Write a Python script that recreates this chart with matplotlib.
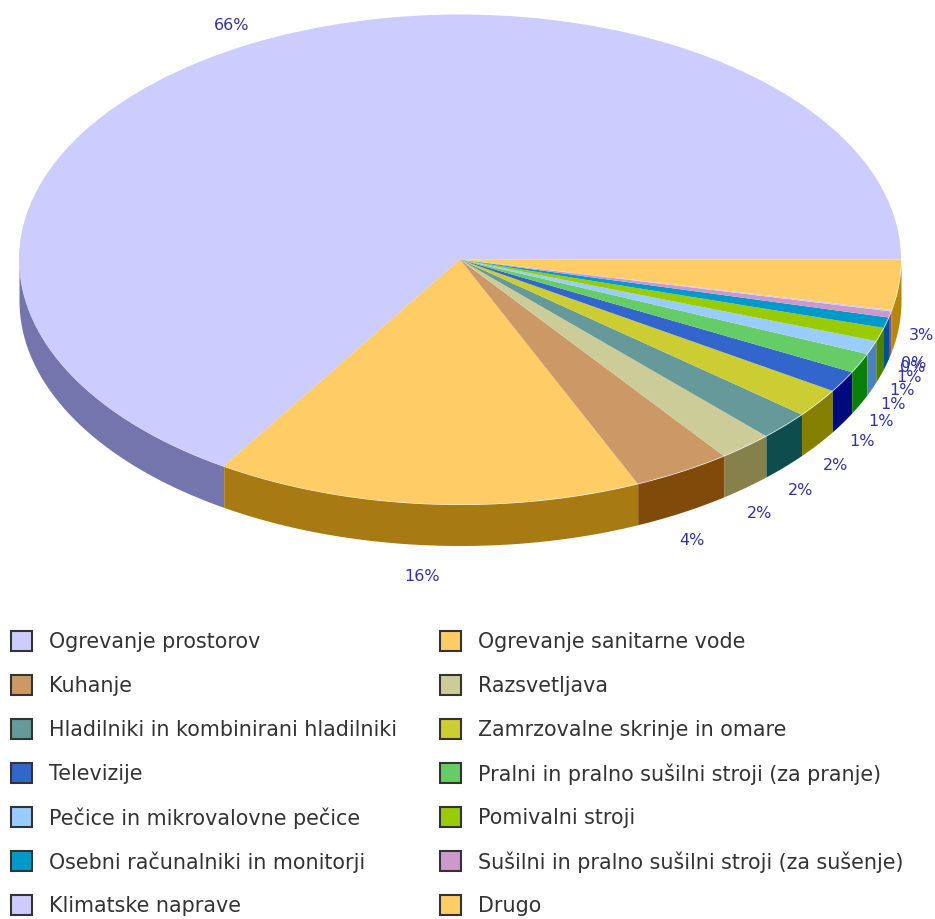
import numpy as np
import matplotlib
matplotlib.use("Agg")
import matplotlib.pyplot as plt
from matplotlib.patches import Rectangle

categories = ["Ogrevanje prostorov", "Ogrevanje sanitarne vode", "Kuhanje", "Razsvetljava",
              "Hladilniki in kombinirani hladilniki", "Zamrzovalne skrinje in omare",
              "Televizije", "Pralni in pralno sušilni stroji (za pranje)",
              "Pečice in mikrovalovne pečice", "Pomivalni stroji",
              "Osebni računalniki in monitorji", "Sušilni in pralno sušilni stroji (za sušenje)",
              "Klimatske naprave", "Drugo"]
values = [66.0, 15.6, 3.6, 2.0, 1.9, 1.9, 1.4, 1.3, 0.9, 0.9, 0.7, 0.4, 0.1, 3.3]
value_labels = ["66%", "16%", "4%", "2%", "2%", "2%", "1%", "1%", "1%", "1%", "1%", "0%", "0%", "3%"]
colors = ["#CCCCFF", "#FFCC66", "#CC9966", "#CCCC99", "#669999", "#CCCC33", "#3366CC",
          "#66CC66", "#99CCFF", "#99CC00", "#0099CC", "#CC99CC", "#CCCCFF", "#FFCC66"]
side_colors = ["#7575AE", "#A87A14", "#7F4A0A", "#86804A", "#0D4D4D", "#857F00", "#000A80",
               "#0A800A", "#4D80BF", "#4D8000", "#00508C", "#80508C", "#7575AE", "#B8860B"]

W, H = 935, 920
CX, CY, RX, RY, DEPTH = 460, 260.5, 441, 245, 41

fig = plt.figure(figsize=(W / 100, H / 100), dpi=100)
ax = fig.add_axes([0, 0, 1, 1])
ax.pie(values, colors=colors, startangle=0, counterclock=True, radius=1,
       wedgeprops=dict(linewidth=0, zorder=3))
ax.set_aspect("auto")
ax.set_xlim(-CX / RX, (W - CX) / RX)
ax.set_ylim((CY - H) / RY, CY / RY)
ax.axis("off")

d = DEPTH / RY
edges = np.concatenate([[0], np.cumsum(values)]) / sum(values) * 2 * np.pi
for i in range(len(values)):
    a0, a1 = max(edges[i], np.pi), min(edges[i + 1], 2 * np.pi)
    if a1 <= a0:
        continue
    t = np.linspace(a0, a1, 80)
    ax.fill_between(np.cos(t), np.sin(t), np.sin(t) - d, color=side_colors[i], lw=0, zorder=2)

# value labels just outside the rim
for i, lab in enumerate(value_labels):
    m = (edges[i] + edges[i + 1]) / 2
    s = np.sin(m)
    x = 1.06 * np.cos(m) - 0.007
    y = 1.095 * s if s > 0 else 1.06 * s - (47 + 10 * abs(s)) / RY
    ax.text(x, y, lab, color="#333399", fontsize=11.5, ha="center", va="center", zorder=5)

# legend in pixel space
lax = fig.add_axes([0, 0, 1, 1], facecolor="none")
lax.set_xlim(0, W)
lax.set_ylim(H, 0)
lax.axis("off")
for i, (name, col) in enumerate(zip(categories, colors)):
    row, column = i // 2, i % 2
    sx = 11 + 429 * column
    y = 642 + 44 * row
    lax.add_patch(Rectangle((sx, y - 10), 21, 20, facecolor=col, edgecolor="#333333", lw=1.5))
    lax.text(sx + 38, y, name, fontsize=14.9, color="#333333", va="center", ha="left")

fig.savefig("out.png", dpi=100)
